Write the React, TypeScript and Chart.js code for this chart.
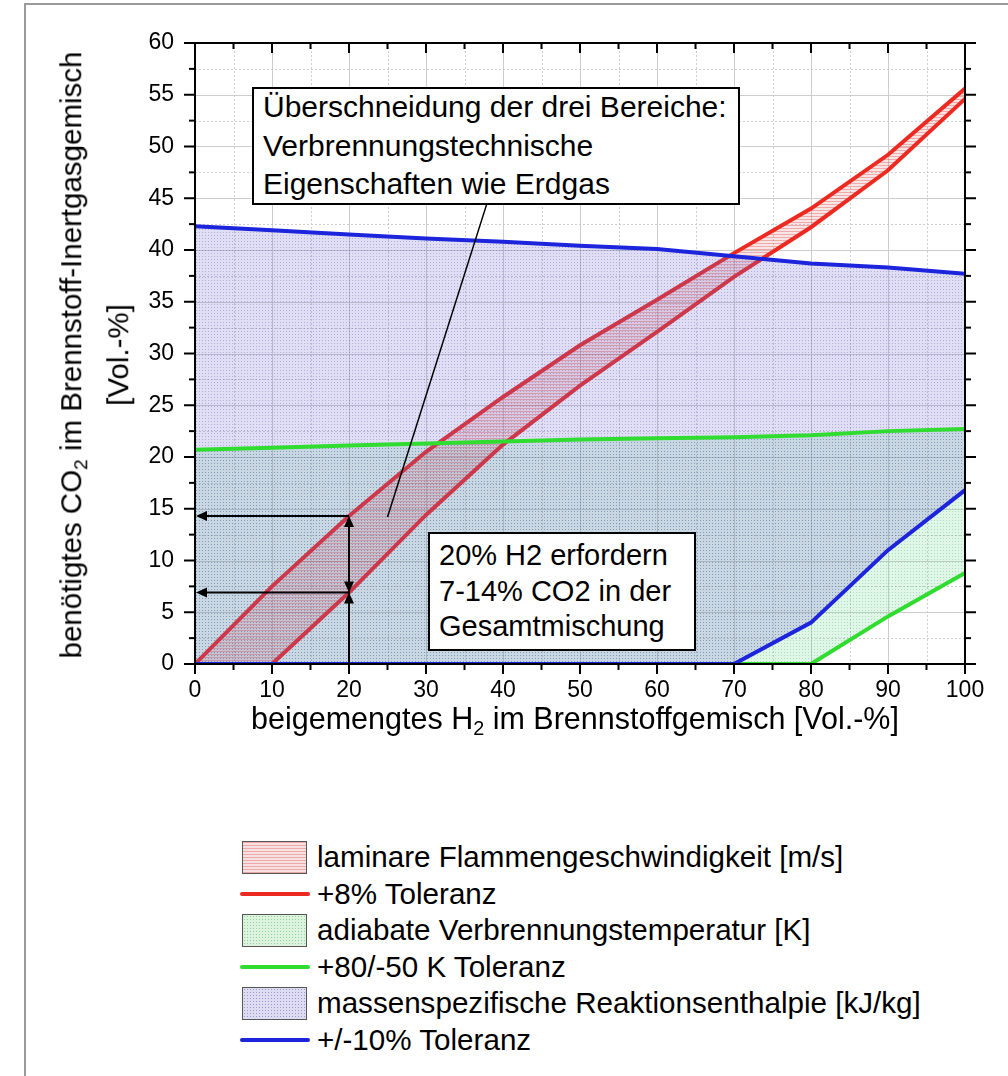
import React, { useEffect, useRef } from 'react';
import { Chart, registerables } from 'chart.js';

Chart.register(...registerables);

// ---------- data ----------
const h2Values = [0, 10, 20, 30, 40, 50, 60, 70, 80, 90, 100];
const redUpper = [0, 7.5, 14.3, 20.5, 25.8, 30.8, 35.2, 39.7, 44.0, 49.2, 55.6];
const redLowerH2 = [0, 10, 20, 30, 40, 50, 60, 70, 80, 90, 100];
const redLower = [0, 0, 6.9, 14.4, 21.2, 26.9, 32.1, 37.4, 42.2, 47.7, 54.6];
const blueUpper = [42.3, 41.9, 41.5, 41.1, 40.8, 40.4, 40.1, 39.4, 38.7, 38.3, 37.7];
const blueLower = [0, 0, 0, 0, 0, 0, 0, 0, 4.0, 11.0, 16.8];
const greenUpper = [20.7, 20.9, 21.1, 21.3, 21.5, 21.7, 21.8, 21.9, 22.1, 22.5, 22.7];
const greenLower = [0, 0, 0, 0, 0, 0, 0, 0, 0, 4.6, 8.8];

const xTickValues = [0, 10, 20, 30, 40, 50, 60, 70, 80, 90, 100];
const yTickValues = [0, 5, 10, 15, 20, 25, 30, 35, 40, 45, 50, 55, 60];

// annotation readings
const arrowH2 = 20;
const arrowCO2 = [6.9, 14.3];
const leaderFrom = [38.0, 44.7];
const leaderTo = [25.0, 14.2];

const boxIntersect = [
  'Überschneidung der drei Bereiche:',
  'Verbrennungstechnische',
  'Eigenschaften wie Erdgas',
];
const boxExample = ['20% H2 erfordern', '7-14% CO2 in der', 'Gesamtmischung'];

const legendItems = [
  { kind: 'area', label: 'laminare Flammengeschwindigkeit [m/s]', color: 'red' },
  { kind: 'line', label: '+8% Toleranz', color: 'red' },
  { kind: 'area', label: 'adiabate Verbrennungstemperatur [K]', color: 'green' },
  { kind: 'line', label: '+80/-50 K Toleranz', color: 'green' },
  { kind: 'area', label: 'massenspezifische Reaktionsenthalpie [kJ/kg]', color: 'blue' },
  { kind: 'line', label: '+/-10% Toleranz', color: 'blue' },
];

// ---------- styles ----------
const FONT = '"Liberation Sans", Arial, sans-serif';
const LINE = { red: '#ec2a22', green: '#30dc30', blue: '#1c24dc' };
const SWATCH: Record<string, any> = {
  red: {
    backgroundColor: 'rgb(248,224,224)',
    backgroundImage: 'repeating-linear-gradient(0deg, rgba(215,90,90,0.4) 0 1px, transparent 1px 3px)',
  },
  green: {
    backgroundColor: 'rgb(220,243,222)',
    backgroundImage: 'radial-gradient(rgba(60,170,80,0.45) 0.7px, transparent 0.8px)',
    backgroundSize: '3px 3px',
  },
  blue: {
    backgroundColor: 'rgb(222,220,243)',
    backgroundImage: 'radial-gradient(rgba(80,70,170,0.45) 0.7px, transparent 0.8px)',
    backgroundSize: '3px 3px',
  },
};

const pts = (xs: number[], ys: number[]) => xs.map((x, i) => ({ x, y: ys[i] }));

function makePattern(w: number, h: number, base: string, mark: string, lines: boolean) {
  const c = document.createElement('canvas');
  c.width = w;
  c.height = h;
  const g = c.getContext('2d')!;
  g.fillStyle = base;
  g.fillRect(0, 0, w, h);
  g.fillStyle = mark;
  if (lines) g.fillRect(0, 0, w, 1);
  else g.fillRect(1, 1, 1, 1);
  return g.createPattern(c, 'repeat')!;
}

const mids = (vals: number[]) => vals.slice(1).map((v, i) => (v + vals[i]) / 2);

const framePlugin = {
  id: 'frameAndAnnotations',
  beforeDatasetsDraw(chart: any) {
    const { ctx, chartArea: a, scales } = chart;
    const { x, y } = scales;
    ctx.save();
    ctx.lineWidth = 1;
    ctx.strokeStyle = '#cfcfcf';
    ctx.setLineDash([2, 2]);
    mids(xTickValues).forEach((v) => {
      const px = Math.round(x.getPixelForValue(v)) + 0.5;
      ctx.beginPath(); ctx.moveTo(px, a.top); ctx.lineTo(px, a.bottom); ctx.stroke();
    });
    mids(yTickValues).forEach((v) => {
      const py = Math.round(y.getPixelForValue(v)) + 0.5;
      ctx.beginPath(); ctx.moveTo(a.left, py); ctx.lineTo(a.right, py); ctx.stroke();
    });
    ctx.setLineDash([]);
    ctx.strokeStyle = '#cdcdcd';
    xTickValues.forEach((v) => {
      const px = Math.round(x.getPixelForValue(v)) + 0.5;
      ctx.beginPath(); ctx.moveTo(px, a.top); ctx.lineTo(px, a.bottom); ctx.stroke();
    });
    yTickValues.forEach((v) => {
      const py = Math.round(y.getPixelForValue(v)) + 0.5;
      ctx.beginPath(); ctx.moveTo(a.left, py); ctx.lineTo(a.right, py); ctx.stroke();
    });
    ctx.restore();
  },
  afterDatasetsDraw(chart: any) {
    const { ctx, chartArea: a, scales } = chart;
    const { x, y } = scales;
    ctx.save();
    ctx.strokeStyle = '#000';
    ctx.lineWidth = 2;
    ctx.strokeRect(a.left, a.top, a.right - a.left, a.bottom - a.top);
    const seg = (x1: number, y1: number, x2: number, y2: number) => {
      ctx.beginPath(); ctx.moveTo(x1, y1); ctx.lineTo(x2, y2); ctx.stroke();
    };
    yTickValues.forEach((v) => {
      const py = y.getPixelForValue(v);
      seg(a.left - 11, py, a.left, py);
      seg(a.right, py, a.right + 11, py);
    });
    mids(yTickValues).forEach((v) => {
      const py = y.getPixelForValue(v);
      seg(a.left - 6, py, a.left, py);
      seg(a.right, py, a.right + 6, py);
    });
    xTickValues.forEach((v) => {
      const px = x.getPixelForValue(v);
      seg(px, a.bottom, px, a.bottom + 10);
      seg(px, a.top, px, a.top + 10);
    });
    mids(xTickValues).forEach((v) => {
      const px = x.getPixelForValue(v);
      seg(px, a.bottom, px, a.bottom + 6);
      seg(px, a.top, px, a.top + 6);
    });

    const head = (tx: number, ty: number, dx: number, dy: number) => {
      const len = 11, half = 5;
      const bx = tx - dx * len, by = ty - dy * len;
      ctx.beginPath();
      ctx.moveTo(tx, ty);
      ctx.lineTo(bx - dy * half, by + dx * half);
      ctx.lineTo(bx + dy * half, by - dx * half);
      ctx.closePath();
      ctx.fill();
    };
    ctx.fillStyle = '#000';
    ctx.lineWidth = 2;
    const ax = x.getPixelForValue(arrowH2);
    const yLow = y.getPixelForValue(arrowCO2[0]);
    const yHigh = y.getPixelForValue(arrowCO2[1]);
    const y0 = y.getPixelForValue(0);
    const x0 = x.getPixelForValue(0);
    seg(ax, y0, ax, yHigh + 2);
    head(ax, yLow, 0, -1);
    head(ax, yLow, 0, 1);
    head(ax, yHigh, 0, -1);
    arrowCO2.forEach((v) => {
      const py = y.getPixelForValue(v);
      seg(ax, py, x0 + 4, py);
      head(x0 + 1, py, -1, 0);
    });
    ctx.lineWidth = 1.5;
    seg(
      x.getPixelForValue(leaderFrom[0]), y.getPixelForValue(leaderFrom[1]),
      x.getPixelForValue(leaderTo[0]), y.getPixelForValue(leaderTo[1])
    );
    ctx.restore();
  },
};

export default function App() {
  const ref = useRef<HTMLCanvasElement>(null);

  useEffect(() => {
    const canvas = ref.current!;
    const bluePat = makePattern(3, 3, 'rgba(112,106,205,0.22)', 'rgba(80,70,180,0.32)', false);
    const greenPat = makePattern(3, 3, 'rgba(100,212,135,0.2)', 'rgba(50,170,85,0.3)', false);
    const redPat = makePattern(4, 3, 'rgba(232,95,95,0.17)', 'rgba(205,55,55,0.32)', true);

    const lineDs = (data: any, color: string, order: number, extra: any = {}) => ({
      data, borderColor: color, borderWidth: 4, fill: false, order, pointRadius: 0, ...extra,
    });
    const fillDs = (data: any, bg: any, order: number, fill: any) => ({
      data, borderWidth: 0, borderColor: 'transparent', backgroundColor: bg, fill, order, pointRadius: 0,
    });

    const chart = new Chart(canvas, {
      type: 'line',
      data: {
        datasets: [
          lineDs(pts(h2Values, blueUpper), LINE.blue, 1),
          lineDs(pts(h2Values, blueLower), LINE.blue, 1),
          lineDs(pts(h2Values, greenUpper), LINE.green, 2),
          lineDs(pts(h2Values, greenLower), LINE.green, 2),
          fillDs(pts(h2Values, blueUpper), bluePat, 3, '+1'),
          fillDs(pts(h2Values, blueLower), 'transparent', 3, false),
          lineDs(pts(h2Values, redUpper), LINE.red, 4),
          lineDs(pts(redLowerH2, redLower), LINE.red, 4, {
            segment: { borderColor: (c: any) => (c.p0DataIndex === 0 ? 'transparent' : LINE.red) },
          }),
          fillDs(pts(h2Values, redUpper), redPat, 5, '+1'),
          fillDs(pts(redLowerH2, redLower), 'transparent', 5, false),
          fillDs(pts(h2Values, greenUpper), greenPat, 6, '+1'),
          fillDs(pts(h2Values, greenLower), 'transparent', 6, false),
        ] as any,
      },
      options: {
        responsive: false,
        maintainAspectRatio: false,
        animation: false,
        events: [],
        layout: { padding: { left: 0, right: 43, top: 43, bottom: 0 } },
        elements: { line: { tension: 0 }, point: { radius: 0 } },
        plugins: { legend: { display: false }, tooltip: { enabled: false } },
        scales: {
          x: {
            type: 'linear',
            min: 0,
            max: 100,
            afterFit: (s: any) => { s.height = 96; },
            grid: { display: false, drawTicks: false },
            border: { display: false },
            ticks: {
              stepSize: 10,
              padding: 13,
              autoSkip: false,
              maxRotation: 0,
              color: '#000',
              font: { family: FONT, size: 23 },
            },
          },
          y: {
            type: 'linear',
            min: 0,
            max: 60,
            afterFit: (s: any) => { s.width = 195; },
            grid: { display: false, drawTicks: false },
            border: { display: false },
            ticks: {
              stepSize: 5,
              padding: 21,
              autoSkip: false,
              color: '#000',
              font: { family: FONT, size: 23 },
            },
          },
        },
      } as any,
      plugins: [framePlugin],
    });
    return () => chart.destroy();
  }, []);

  const abs = (s: any) => ({ position: 'absolute' as const, ...s });
  const sub = { fontSize: '0.65em', verticalAlign: '-0.3em', lineHeight: 0 };

  return (
    <div style={abs({ left: 0, top: 0, width: 1008, height: 1076, background: '#fff', fontFamily: FONT, color: '#000', overflow: 'hidden' })}>
      <div style={abs({ left: 24, top: 3, width: 1000, height: 1100, borderTop: '2px solid #9a9a9a', borderLeft: '2px solid #9a9a9a', boxSizing: 'border-box' })} />
      <canvas ref={ref} width={1008} height={760} style={abs({ left: 0, top: 0, width: 1008, height: 760 })} />

      {/* y-axis title */}
      <div style={abs({ left: 71, top: 355, transform: 'translate(-50%,-50%) rotate(-90deg)', whiteSpace: 'nowrap', fontSize: 29.5, lineHeight: 1 })}>
        benötigtes CO<sub style={sub}>2</sub> im Brennstoff-Inertgasgemisch
      </div>
      <div style={abs({ left: 118, top: 355, transform: 'translate(-50%,-50%) rotate(-90deg)', whiteSpace: 'nowrap', fontSize: 29.5, lineHeight: 1 })}>
        [Vol.-%]
      </div>

      {/* x-axis title */}
      <div style={abs({ left: 575, top: 718, transform: 'translate(-50%,-50%)', whiteSpace: 'nowrap', fontSize: 30.5, lineHeight: 1 })}>
        beigemengtes H<sub style={sub}>2</sub> im Brennstoffgemisch [Vol.-%]
      </div>

      {/* annotation boxes */}
      <div style={abs({ left: 252, top: 87, width: 488, height: 118, boxSizing: 'border-box', border: '2px solid #000', background: '#fff', paddingLeft: 9, display: 'flex', flexDirection: 'column', justifyContent: 'center', fontSize: 30, lineHeight: '38.5px', whiteSpace: 'nowrap' })}>
        {boxIntersect.map((t) => <div key={t}>{t}</div>)}
      </div>
      <div style={abs({ left: 428, top: 532, width: 268, height: 119, boxSizing: 'border-box', border: '2px solid #000', background: '#fff', paddingLeft: 9, display: 'flex', flexDirection: 'column', justifyContent: 'center', fontSize: 29, lineHeight: '35.5px', whiteSpace: 'nowrap' })}>
        {boxExample.map((t) => <div key={t}>{t}</div>)}
      </div>

      {/* legend */}
      {legendItems.map((it, i) => {
        const cy = 857 + i * 36.6;
        return (
          <React.Fragment key={it.label}>
            {it.kind === 'area' ? (
              <div style={abs({ left: 242, top: cy - 16.5, width: 65, height: 33, boxSizing: 'border-box', border: '1.5px solid #555', ...SWATCH[it.color] })} />
            ) : (
              <div style={abs({ left: 240, top: cy - 2, width: 70, height: 4, borderRadius: 2, background: (LINE as any)[it.color] })} />
            )}
            <div style={abs({ left: 317, top: cy, transform: 'translateY(-50%)', fontSize: 29.6, lineHeight: 1, whiteSpace: 'nowrap' })}>
              {it.label}
            </div>
          </React.Fragment>
        );
      })}
    </div>
  );
}
